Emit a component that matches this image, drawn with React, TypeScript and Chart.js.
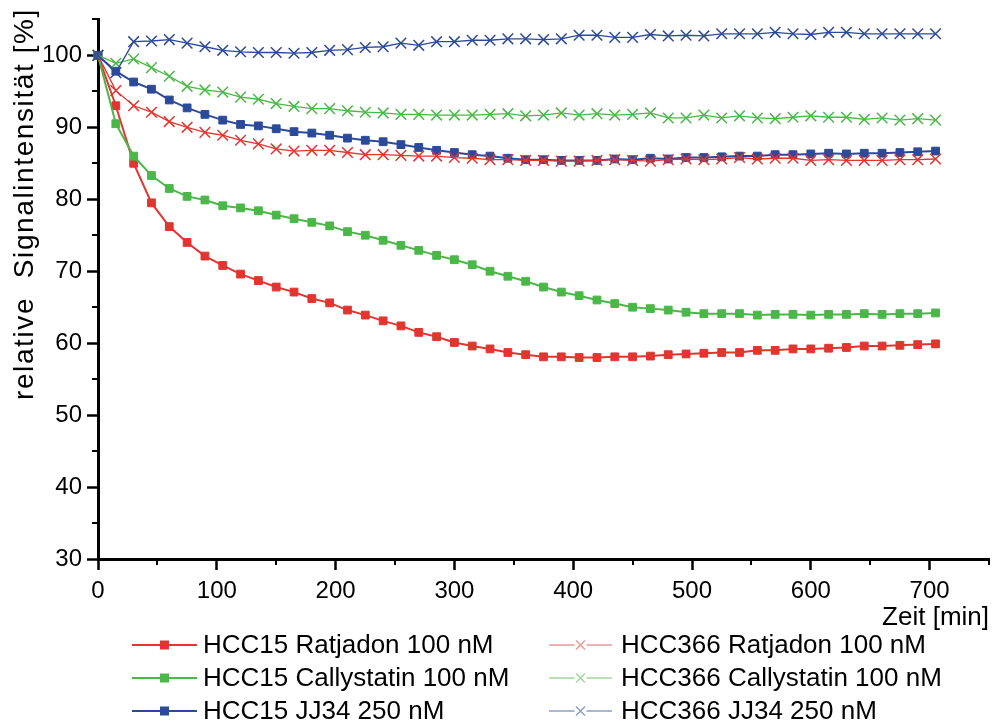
import React, { useEffect, useRef } from 'react';
import { Chart, registerables } from 'chart.js';

Chart.register(...registerables);

const FONT = '"Liberation Sans", Arial, Helvetica, sans-serif';

const times = [
  0, 15, 30, 45, 60, 75, 90, 105, 120, 135, 150, 165, 180, 195, 210, 225,
  240, 255, 270, 285, 300, 315, 330, 345, 360, 375, 390, 405, 420, 435, 450, 465,
  480, 495, 510, 525, 540, 555, 570, 585, 600, 615, 630, 645, 660, 675, 690, 705,
];

const hcc15Ratjadon = [
  100, 93.0, 85.0, 79.5, 76.2, 74.0, 72.1, 70.8, 69.6, 68.7, 67.8, 67.1, 66.2, 65.6, 64.6, 63.9,
  63.1, 62.4, 61.5, 60.9, 60.1, 59.6, 59.2, 58.7, 58.4, 58.1, 58.1, 58.0, 58.0, 58.1, 58.1, 58.2,
  58.4, 58.5, 58.6, 58.7, 58.7, 59.0, 59.0, 59.2, 59.2, 59.3, 59.4, 59.6, 59.6, 59.7, 59.8, 59.9,
];

const hcc15Callystatin = [
  100, 90.5, 86.0, 83.3, 81.5, 80.4, 79.9, 79.1, 78.8, 78.4, 77.8, 77.3, 76.8, 76.3, 75.5, 75.0,
  74.3, 73.6, 72.9, 72.2, 71.6, 70.9, 70.0, 69.3, 68.6, 67.8, 67.1, 66.6, 66.0, 65.5, 65.0, 64.8,
  64.6, 64.3, 64.1, 64.1, 64.1, 63.9, 64.0, 64.0, 63.9, 64.0, 64.0, 64.1, 64.0, 64.1, 64.1, 64.2,
];

const hcc15JJ34 = [
  100, 97.8, 96.3, 95.3, 93.8, 92.7, 91.8, 91.0, 90.4, 90.2, 89.8, 89.4, 89.2, 88.9, 88.5, 88.2,
  88.0, 87.6, 87.2, 86.8, 86.5, 86.2, 86.0, 85.7, 85.5, 85.5, 85.4, 85.4, 85.4, 85.6, 85.5, 85.7,
  85.6, 85.8, 85.8, 85.9, 86.0, 86.0, 86.2, 86.2, 86.3, 86.4, 86.3, 86.4, 86.4, 86.5, 86.6, 86.7,
];

const hcc366Ratjadon = [
  100, 95.1, 93.0, 92.1, 90.8, 90.0, 89.3, 88.9, 88.2, 87.7, 87.0, 86.7, 86.8, 86.8, 86.5, 86.2,
  86.2, 86.1, 86.0, 86.0, 85.8, 85.7, 85.5, 85.5, 85.4, 85.4, 85.3, 85.3, 85.4, 85.5, 85.4, 85.3,
  85.5, 85.6, 85.5, 85.6, 85.8, 85.6, 85.7, 85.7, 85.4, 85.5, 85.4, 85.4, 85.4, 85.5, 85.5, 85.6,
];

const hcc366Callystatin = [
  100, 98.9, 99.5, 98.3, 97.1, 95.7, 95.2, 94.9, 94.2, 93.9, 93.3, 92.9, 92.6, 92.6, 92.3, 92.1,
  92.0, 91.8, 91.8, 91.7, 91.7, 91.7, 91.8, 91.9, 91.6, 91.7, 92.0, 91.7, 91.9, 91.7, 91.8, 92.0,
  91.3, 91.3, 91.7, 91.3, 91.6, 91.3, 91.2, 91.4, 91.6, 91.4, 91.4, 91.1, 91.3, 91.0, 91.2, 91.0,
];

const hcc366JJ34 = [
  100, 97.6, 101.9, 102.0, 102.2, 101.7, 101.2, 100.7, 100.5, 100.4, 100.4, 100.3, 100.4, 100.7, 100.8, 101.1,
  101.2, 101.7, 101.4, 101.9, 101.9, 102.1, 102.1, 102.3, 102.3, 102.2, 102.3, 102.8, 102.8, 102.5, 102.5, 102.9,
  102.7, 102.8, 102.7, 103.0, 103.0, 103.0, 103.2, 103.0, 102.9, 103.2, 103.2, 103.0, 103.0, 103.0, 103.0, 103.0,
];

const seriesLabels = [
  'HCC15 Ratjadon 100 nM',
  'HCC15 Callystatin 100 nM',
  'HCC15 JJ34 250 nM',
  'HCC366 Ratjadon 100 nM',
  'HCC366 Callystatin 100 nM',
  'HCC366 JJ34 250 nM',
];

const xTitle = 'Zeit [min]';
const yTitle = 'relative  Signalintensität [%]';

const RED = '#e2352f';
const GREEN = '#4bb748';
const BLUE = '#2c4a9a';
const LIGHT = ['#e99b98', '#a3d69e', '#8e9dc6'];

export default function App() {
  const ref = useRef<HTMLCanvasElement>(null);

  useEffect(() => {
    const canvas = ref.current;
    if (!canvas) return;

    const pts = (arr: number[]) => times.map((t, i) => ({ x: t, y: arr[i] }));
    const colors = [RED, GREEN, BLUE, RED, GREEN, BLUE];
    const values = [hcc15Ratjadon, hcc15Callystatin, hcc15JJ34, hcc366Ratjadon, hcc366Callystatin, hcc366JJ34];

    const datasets = values.map((arr, i) => {
      const isSq = i < 3;
      return {
        label: seriesLabels[i],
        data: pts(arr),
        borderColor: colors[i],
        backgroundColor: colors[i],
        borderWidth: isSq ? 2 : 1.3,
        pointStyle: isSq ? 'rect' : 'crossRot',
        pointRadius: isSq ? 5.5 : 7.5,
        pointBorderWidth: isSq ? 1 : 1.5,
        pointBackgroundColor: colors[i],
        pointBorderColor: colors[i],
        tension: 0,
        clip: false as any,
        order: isSq ? 10 - i : 3 - (i - 3),
      };
    });

    const decor = {
      id: 'decor',
      afterDraw(chart: any) {
        const ctx = chart.ctx as CanvasRenderingContext2D;
        const xs = chart.scales.x;
        const ys = chart.scales.y;
        const area = chart.chartArea;
        ctx.save();
        // minor ticks
        ctx.strokeStyle = '#000';
        ctx.lineWidth = 2;
        ctx.beginPath();
        for (let v = 35; v <= 105; v += 10) {
          const y = Math.round(ys.getPixelForValue(v));
          ctx.moveTo(area.left - 6, y);
          ctx.lineTo(area.left, y);
        }
        for (let v = 50; v <= 750; v += 100) {
          const x = Math.round(xs.getPixelForValue(v));
          ctx.moveTo(x, area.bottom);
          ctx.lineTo(x, area.bottom + 6);
        }
        ctx.stroke();

        // y title
        ctx.fillStyle = '#000';
        ctx.save();
        ctx.translate(33, 204);
        ctx.rotate(-Math.PI / 2);
        ctx.font = `28px ${FONT}`;
        (ctx as any).letterSpacing = '1.6px';
        ctx.textAlign = 'center';
        ctx.textBaseline = 'alphabetic';
        ctx.fillText(yTitle, 0, 0);
        ctx.restore();

        // x title
        ctx.font = `26px ${FONT}`;
        ctx.textAlign = 'right';
        ctx.textBaseline = 'alphabetic';
        ctx.fillText(xTitle, area.right, 625);

        // legend
        const colX = [132, 549];
        const textX = [203, 621];
        const baselines = [653, 686, 719];
        ctx.font = `26px ${FONT}`;
        ctx.textAlign = 'left';
        for (let i = 0; i < 6; i++) {
          const col = i < 3 ? 0 : 1;
          const row = i % 3;
          const ly = baselines[row] - 8;
          const x0 = colX[col];
          const x1 = col === 0 ? 197 : 612;
          const cx = (x0 + x1) / 2;
          if (col === 0) {
            ctx.strokeStyle = colors[i];
            ctx.lineWidth = 2;
            ctx.beginPath();
            ctx.moveTo(x0, ly);
            ctx.lineTo(x1, ly);
            ctx.stroke();
            ctx.fillStyle = colors[i];
            ctx.fillRect(cx - 4.5, ly - 4.5, 9, 9);
          } else {
            const lc = LIGHT[row];
            ctx.strokeStyle = lc;
            ctx.lineWidth = 1.5;
            ctx.beginPath();
            ctx.moveTo(x0, ly);
            ctx.lineTo(cx - 6, ly);
            ctx.moveTo(cx + 6, ly);
            ctx.lineTo(x1, ly);
            ctx.moveTo(cx - 4.5, ly - 4.5);
            ctx.lineTo(cx + 4.5, ly + 4.5);
            ctx.moveTo(cx + 4.5, ly - 4.5);
            ctx.lineTo(cx - 4.5, ly + 4.5);
            ctx.stroke();
          }
          ctx.fillStyle = '#000';
          ctx.fillText(seriesLabels[i], textX[col], baselines[row]);
        }
        ctx.restore();
      },
    };

    const chart = new Chart(canvas, {
      type: 'line',
      data: { datasets: datasets as any },
      options: {
        responsive: false,
        animation: false,
        layout: { padding: { left: 0, top: 9, right: 3, bottom: 115 } },
        plugins: {
          legend: { display: false },
          tooltip: { enabled: false },
          title: { display: false },
        },
        scales: {
          x: {
            type: 'linear',
            min: 0,
            max: 750,
            ticks: {
              stepSize: 100,
              includeBounds: false,
              color: '#000',
              padding: 7,
              maxRotation: 0,
              font: { family: FONT, size: 24 },
            },
            grid: { drawOnChartArea: false, tickLength: 11, tickColor: '#000', tickWidth: 2.5 },
            border: { color: '#000', width: 3 },
            afterFit: (s: any) => {
              s.height = 50;
            },
          },
          y: {
            type: 'linear',
            min: 30,
            max: 105,
            ticks: {
              stepSize: 10,
              includeBounds: false,
              color: '#000',
              padding: 5,
              font: { family: FONT, size: 24 },
            },
            grid: { drawOnChartArea: false, tickLength: 11, tickColor: '#000', tickWidth: 2.5 },
            border: { color: '#000', width: 3 },
            afterFit: (s: any) => {
              s.width = 98;
            },
          },
        },
      } as any,
      plugins: [decor],
    });

    return () => chart.destroy();
  }, []);

  return (
    <div style={{ position: 'fixed', left: 0, top: 0, width: 998, height: 724, background: '#fff' }}>
      <canvas ref={ref} width={998} height={724} style={{ display: 'block', width: 998, height: 724 }} />
    </div>
  );
}
